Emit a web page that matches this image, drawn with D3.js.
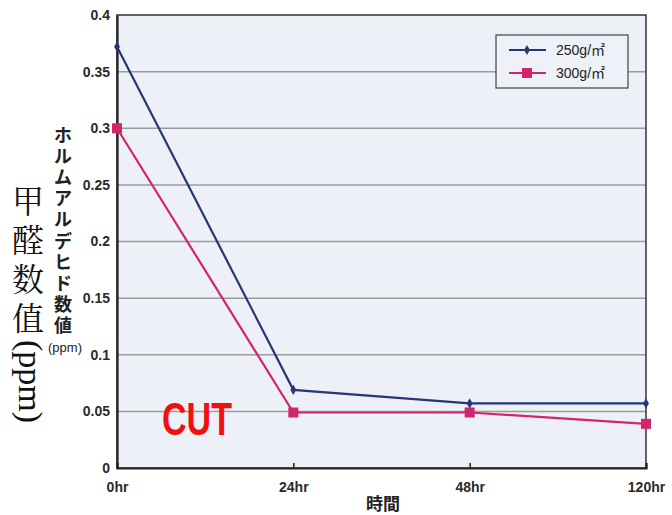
<!DOCTYPE html>
<html><head><meta charset="utf-8">
<script src="https://cdn.jsdelivr.net/npm/d3@7"></script>
<style>html,body{margin:0;padding:0;background:#fff}svg{display:block}</style>
</head><body>
<script>
const categories = ["0hr", "24hr", "48hr", "120hr"];
const series250 = [0.372, 0.069, 0.057, 0.057];
const series300 = [0.300, 0.049, 0.049, 0.039];
const yTicks = [0, 0.05, 0.1, 0.15, 0.2, 0.25, 0.3, 0.35, 0.4];
const yTickLabels = ["0", "0.05", "0.1", "0.15", "0.2", "0.25", "0.3", "0.35", "0.4"];
const seriesNames = ["250g/㎡", "300g/㎡"];
const yLabelJa = "ホルムアルデヒド数値";
const yLabelZh = "甲醛数值";
const xTitle = "時間";

const W = 672, H = 515;
const L = 117, R = 646, T = 15, B = 468;
const svg = d3.select("body").append("svg").attr("width", W).attr("height", H);

const x = d3.scalePoint().domain(categories).range([L, R]).padding(0);
const y = d3.scaleLinear().domain([0, 0.4]).range([B, T]);

// plot background
svg.append("rect").attr("x", L).attr("y", T).attr("width", R - L).attr("height", B - T).attr("fill", "#edf0f6");

// gridlines
svg.append("g").selectAll("line").data(yTicks.filter(d => d > 0 && d < 0.4)).join("line")
  .attr("x1", L).attr("x2", R).attr("y1", d => y(d)).attr("y2", d => y(d))
  .attr("stroke", "#9a9ca0").attr("stroke-width", 1.5);

// frame
svg.append("rect").attr("x", L).attr("y", T).attr("width", R - L).attr("height", B - T)
  .attr("fill", "none").attr("stroke", "#333").attr("stroke-width", 1.5);

// y axis
const yAxis = d3.axisLeft(y).tickValues(yTicks).tickFormat((d, i) => yTickLabels[i]).tickSize(0).tickPadding(7);
const gy = svg.append("g").attr("transform", `translate(${L},0)`).call(yAxis);
gy.select(".domain").attr("stroke", "#222").attr("stroke-width", 2.2);
gy.selectAll("text").attr("font-family", "Liberation Sans, Arial, sans-serif").attr("font-size", 14).attr("font-weight", "bold").attr("fill", "#2a2a2a");

// x axis
const xAxis = d3.axisBottom(x).tickSize(-5).tickPadding(14);
const gx = svg.append("g").attr("transform", `translate(0,${B})`).call(xAxis);
gx.select(".domain").attr("stroke", "#222").attr("stroke-width", 2.2);
gx.selectAll(".tick line").attr("stroke", "#222").attr("stroke-width", 1.5);
gx.selectAll("text").attr("font-family", "Liberation Sans, Arial, sans-serif").attr("font-size", 14).attr("font-weight", "bold").attr("fill", "#2a2a2a");

// lines
const line = d3.line().x((d, i) => x(categories[i])).y(d => y(d));
const c250 = "#263678", c300 = "#d4246c";
svg.append("path").datum(series300).attr("d", line).attr("fill", "none").attr("stroke", c300).attr("stroke-width", 2.2);
svg.append("path").datum(series250).attr("d", line).attr("fill", "none").attr("stroke", c250).attr("stroke-width", 2.2);
svg.append("g").selectAll("rect").data(series300).join("rect")
  .attr("x", (d, i) => x(categories[i]) - 5).attr("y", d => y(d) - 5).attr("width", 10).attr("height", 10).attr("fill", c300);
svg.append("g").selectAll("path").data(series250).join("path")
  .attr("transform", (d, i) => `translate(${x(categories[i])},${y(d)})`)
  .attr("d", d3.symbol(d3.symbolDiamond, 30)).attr("fill", c250);

// legend
const lg = svg.append("g");
lg.append("rect").attr("x", 496).attr("y", 35).attr("width", 132).attr("height", 53)
  .attr("fill", "#eef1f7").attr("stroke", "#444").attr("stroke-width", 1.2);
const legRows = [{name: seriesNames[0], c: c250, sym: "d"}, {name: seriesNames[1], c: c300, sym: "s"}];
legRows.forEach((r, i) => {
  const yy = 50 + i * 23;
  lg.append("line").attr("x1", 509).attr("x2", 546).attr("y1", yy).attr("y2", yy).attr("stroke", r.c).attr("stroke-width", 2.2);
  if (r.sym === "d") lg.append("path").attr("transform", `translate(527,${yy})`).attr("d", d3.symbol(d3.symbolDiamond, 30)).attr("fill", r.c);
  else lg.append("rect").attr("x", 522).attr("y", yy - 5).attr("width", 10).attr("height", 10).attr("fill", r.c);
  lg.append("text").attr("x", 556).attr("y", yy + 5).text(r.name)
    .attr("font-family", "Liberation Sans, Arial, 'Noto Sans CJK JP', sans-serif").attr("font-size", 14).attr("fill", "#222");
});

// x title
svg.append("text").attr("x", 383).attr("y", 510).attr("text-anchor", "middle").text(xTitle)
  .attr("font-family", "'Noto Sans CJK JP', sans-serif").attr("font-weight", "bold").attr("font-size", 17).attr("fill", "#222");

// Japanese vertical y label (one text, one tspan per character)
const jaT = svg.append("text").attr("text-anchor", "middle").attr("dominant-baseline", "central")
  .attr("font-family", "'Noto Sans CJK JP', sans-serif").attr("font-weight", "bold").attr("font-size", 18).attr("fill", "#222");
Array.from(yLabelJa).forEach((ch, i) => {
  jaT.append("tspan").attr("x", 63).attr("y", 134 + i * 21.1).text(ch);
});
svg.append("text").attr("x", 65).attr("y", 352).attr("text-anchor", "middle").text("(ppm)")
  .attr("font-family", "Liberation Sans, Arial, sans-serif").attr("font-size", 13).attr("fill", "#222");

// Chinese vertical label
const zhT = svg.append("text").attr("text-anchor", "middle").attr("dominant-baseline", "central")
  .attr("font-family", "'Noto Serif CJK SC', 'Noto Sans CJK SC', serif").attr("font-size", 32).attr("fill", "#111");
Array.from(yLabelZh).forEach((ch, i) => {
  zhT.append("tspan").attr("x", 28).attr("y", 199 + i * 39).text(ch);
});
svg.append("text").attr("transform", "translate(19,340) rotate(90)").text("(ppm)")
  .attr("font-family", "Liberation Serif, 'Times New Roman', serif").attr("font-size", 34).attr("fill", "#111");

// CUT
svg.append("text").attr("x", 162).attr("y", 435).text("CUT")
  .attr("font-family", "'Liberation Sans Narrow', 'Liberation Sans', Arial, sans-serif").attr("font-weight", "bold")
  .attr("font-size", 46).attr("textLength", 70).attr("lengthAdjust", "spacingAndGlyphs").attr("fill", "#f01010");
</script>
</body></html>
